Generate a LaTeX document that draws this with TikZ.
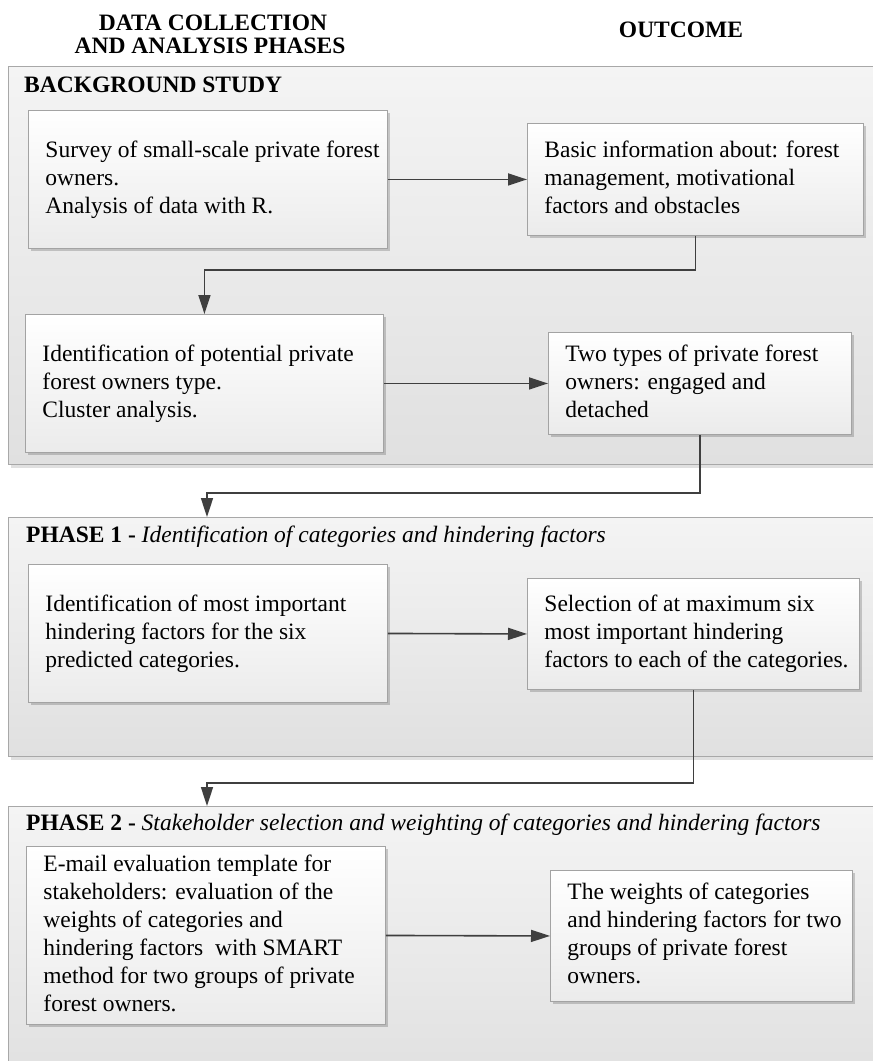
\documentclass[tikz,border=0pt]{standalone}
\usepackage{fontspec}
\setmainfont{Liberation Serif}
\usetikzlibrary{arrows.meta,shadows}
\definecolor{boxborder}{HTML}{A3A3A3}
\definecolor{boxbot}{HTML}{EBEBEB}
\definecolor{paneltop}{HTML}{F4F4F4}
\definecolor{panelbot}{HTML}{E0E0E0}
\definecolor{panelborder}{HTML}{A8A8A8}
\definecolor{arrowcol}{HTML}{3F3F3F}
\newcommand\fs{\fontsize{23.5}{28}\selectfont}
\newcommand\bt[2]{\makebox[#1][l]{\hspace{17pt}\begin{tabular}{@{}l@{}}#2\end{tabular}}}
\begin{document}
\begin{tikzpicture}[x=1pt,y=-1pt,
  panel/.style={draw=panelborder, line width=1pt, top color=paneltop, bottom color=panelbot,
    drop shadow={shadow xshift=2pt, shadow yshift=-3pt, fill=black, opacity=0.12},
    anchor=north west, inner sep=0pt},
  bx/.style={draw=boxborder, line width=0.9pt, top color=white, bottom color=boxbot,
    drop shadow={shadow xshift=2.5pt, shadow yshift=-2.5pt, fill=black, opacity=0.18},
    anchor=north west, inner sep=0pt, font=\fs},
  ttl/.style={anchor=base west, inner sep=0pt, font=\fs},
  hdr/.style={anchor=base, inner sep=0pt, font=\fs\bfseries},
  arr/.style={draw=arrowcol, line width=1.6pt, -{Triangle[length=19pt,width=12pt]}}
]
\useasboundingbox (0,0) rectangle (873,1061);
\clip (0,0) rectangle (873,1061);

% headers
\node[hdr] (H1a) at (213,30) {DATA COLLECTION};
\node[hdr] (H1b) at (210,53) {AND ANALYSIS PHASES};
\node[hdr] (H2) at (681,37) {OUTCOME};

% panels
\node[panel, minimum width=890pt, minimum height=398pt] (P1) at (8,66) {};
\node[panel, minimum width=890pt, minimum height=239pt] (P2) at (8,517) {};
\node[panel, minimum width=890pt, minimum height=280pt] (P3) at (8,806) {};

% panel titles
\node[ttl] (T1) at (24,92) {\bfseries BACKGROUND STUDY};
\node[ttl] (T2) at (26,542) {\bfseries PHASE 1 - \mdseries\itshape Identification of categories and hindering factors};
\node[ttl] (T3) at (26,830) {\bfseries PHASE 2 - \mdseries\itshape Stakeholder selection and weighting of categories and hindering factors};

% boxes
\node[bx, minimum height=138pt] (A1) at (28,110)
  {\bt{359pt}{Survey of small-scale private forest\\ owners.\\ Analysis of data with R.}};
\node[bx, minimum height=112pt] (B1) at (527,123)
  {\bt{336pt}{Basic information about: forest\\ management, motivational\\ factors and obstacles}};
\node[bx, minimum height=138pt] (A2) at (25,314)
  {\bt{358pt}{Identification of potential private\\ forest owners type.\\ Cluster analysis.}};
\node[bx, minimum height=102pt] (B2) at (548,332)
  {\bt{303pt}{Two types of private forest\\ owners: engaged and\\ detached}};
\node[bx, minimum height=138pt] (A3) at (28,564)
  {\bt{359pt}{Identification of most important\\ hindering factors for the six\\ predicted categories.}};
\node[bx, minimum height=111pt] (B3) at (527,578)
  {\bt{332pt}{Selection of at maximum six\\ most important hindering\\ factors to each of the categories.}};
\node[bx, minimum height=178pt] (A4) at (26,846)
  {\bt{359pt}{E-mail evaluation template for\\ stakeholders: evaluation of the\\ weights of categories and\\ hindering factors~ with SMART\\ method for two groups of private\\ forest owners.}};
\node[bx, minimum height=131pt] (B4) at (550,870)
  {\bt{302pt}{The weights of categories\\ and hindering factors for two\\ groups of private forest\\ owners.}};

% connectors
\coordinate (k2) at (207,493);
\coordinate (p2in) at (207,517);
\coordinate (k3) at (207,783);
\coordinate (p3in) at (207,806);

\draw[arr] (A1.east) -- (B1.west);
\draw[arr] (B1.south) -- ++(0,34) -| (A2.north);
\draw[arr] (A2.east) -- (B2.west);
\draw[arr] (B2.south) |- (k2) -- (p2in);
\draw[arr] (A3.east) -- (B3.west);
\draw[arr] (B3.south) |- (k3) -- (p3in);
\draw[arr] (A4.east) -- (B4.west);
\end{tikzpicture}
\end{document}
